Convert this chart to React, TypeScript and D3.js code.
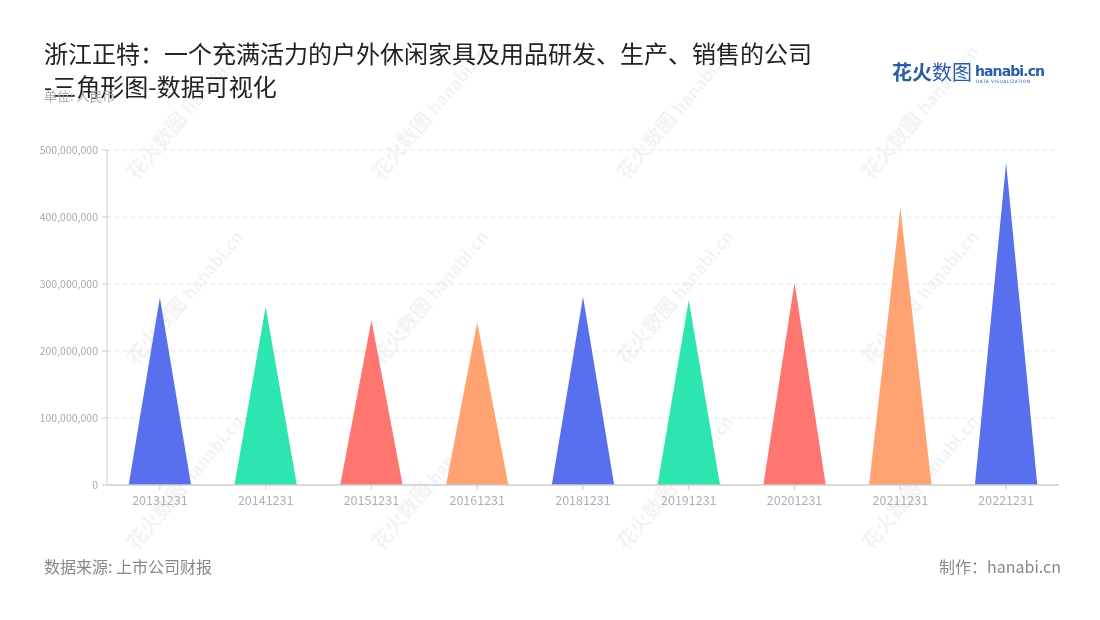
import React from "react";
import * as d3 from "d3";

const categories = ["20131231", "20141231", "20151231", "20161231", "20181231", "20191231", "20201231", "20211231", "20221231"];
const values = [280000000, 266000000, 246000000, 243000000, 281000000, 276000000, 302000000, 414000000, 481000000];
const palette = ["#5870EE", "#2DE6AF", "#FF7570", "#FFA372"];
const yTicks = [0, 100000000, 200000000, 300000000, 400000000, 500000000];

const W = 1100, H = 620;
const M = { left: 107, right: 1059, top: 150, bottom: 485 };
const FONT = "'Noto Sans CJK SC', 'Noto Sans', sans-serif";

export default function App() {
  const x = d3.scaleBand<string>().domain(categories).range([M.left, M.right]).paddingInner(0).paddingOuter(0);
  const y = d3.scaleLinear().domain([0, 500000000]).range([M.bottom, M.top]);
  const fmt = d3.format(",");
  const half = x.bandwidth() * 0.295;

  const wmCols = [175, 420, 665, 910];
  const wmRows = [135, 320, 505];

  return (
    <svg width={W} height={H} style={{ position: "absolute", left: 0, top: 0, background: "#fff" }} fontFamily={FONT}>
      <rect width={W} height={H} fill="#fff" />
      {/* watermarks */}
      <g opacity={0.45}>
        {wmRows.map((ry, ri) =>
          wmCols.map((cx, ci) => (
            <g key={`${ri}-${ci}`} transform={`translate(${cx},${ry}) rotate(-50)`}>
              <text x={-60} y={0} fontSize={20} fontWeight={700} fill="#e4e4e4">花火数图</text>
              <text x={25} y={0} fontSize={17} fontWeight={700} fill="#e4e4e4">hanabi.cn</text>
            </g>
          ))
        )}
      </g>
      {/* grid */}
      {yTicks.filter(t => t > 0).map(t => (
        <line key={t} x1={M.left} x2={M.right} y1={y(t)} y2={y(t)} stroke="#e3e3e3" strokeDasharray="4,4" />
      ))}
      {/* triangles */}
      {categories.map((c, i) => {
        const cx = (x(c) as number) + x.bandwidth() / 2;
        const p = d3.path();
        p.moveTo(cx - half, y(0));
        p.lineTo(cx, y(values[i]));
        p.lineTo(cx + half, y(0));
        p.closePath();
        return <path key={c} d={p.toString()} fill={palette[i % 4]} />;
      })}
      {/* y axis */}
      <line x1={M.left} x2={M.left} y1={M.top} y2={M.bottom} stroke="#cccccc" />
      {yTicks.map(t => (
        <g key={t}>
          <line x1={M.left - 5} x2={M.left} y1={y(t)} y2={y(t)} stroke="#cccccc" />
          <text x={M.left - 9} y={y(t)} dy="0.35em" textAnchor="end" fontSize={10.5} fill="#aaaaaa">{fmt(t)}</text>
        </g>
      ))}
      {/* x axis */}
      <line x1={M.left} x2={M.right} y1={M.bottom} y2={M.bottom} stroke="#cccccc" strokeWidth={1.5} />
      {categories.map(c => {
        const cx = (x(c) as number) + x.bandwidth() / 2;
        return (
          <g key={c}>
            <line x1={cx} x2={cx} y1={M.bottom} y2={M.bottom + 5} stroke="#cccccc" />
            <text x={cx} y={505} textAnchor="middle" fontSize={12.5} fill="#aab0bb">{c}</text>
          </g>
        );
      })}
      {/* title */}
      <text x={44} y={63} fontSize={24} fill="#222">浙江正特：一个充满活力的户外休闲家具及用品研发、生产、销售的公司</text>
      <text x={44} y={96} fontSize={24} fill="#222">-三角形图-数据可视化</text>
      <text x={44} y={101} fontSize={13} fill="#aaaaaa">单位: 人民币</text>
      {/* logo */}
      <text x={892} y={80} fontSize={20} fontWeight={700} fill="#2a5caa">花火<tspan fontWeight={400}>数图</tspan></text>
      <text x={975} y={76} fontSize={14} fontWeight={700} fill="#2a5caa" fontFamily="'DejaVu Sans', sans-serif" letterSpacing={-0.9}>hanabi.cn</text>
      <text x={976} y={83} fontSize={4.5} fill="#2a5caa" fontFamily="'DejaVu Sans', sans-serif" letterSpacing={0.4}>DATA VISUALIZATION</text>
      {/* footer */}
      <text x={44} y={573} fontSize={16} fill="#888">数据来源: 上市公司财报</text>
      <text x={1061} y={573} textAnchor="end" fontSize={16} fill="#888">制作：hanabi.cn</text>
    </svg>
  );
}
